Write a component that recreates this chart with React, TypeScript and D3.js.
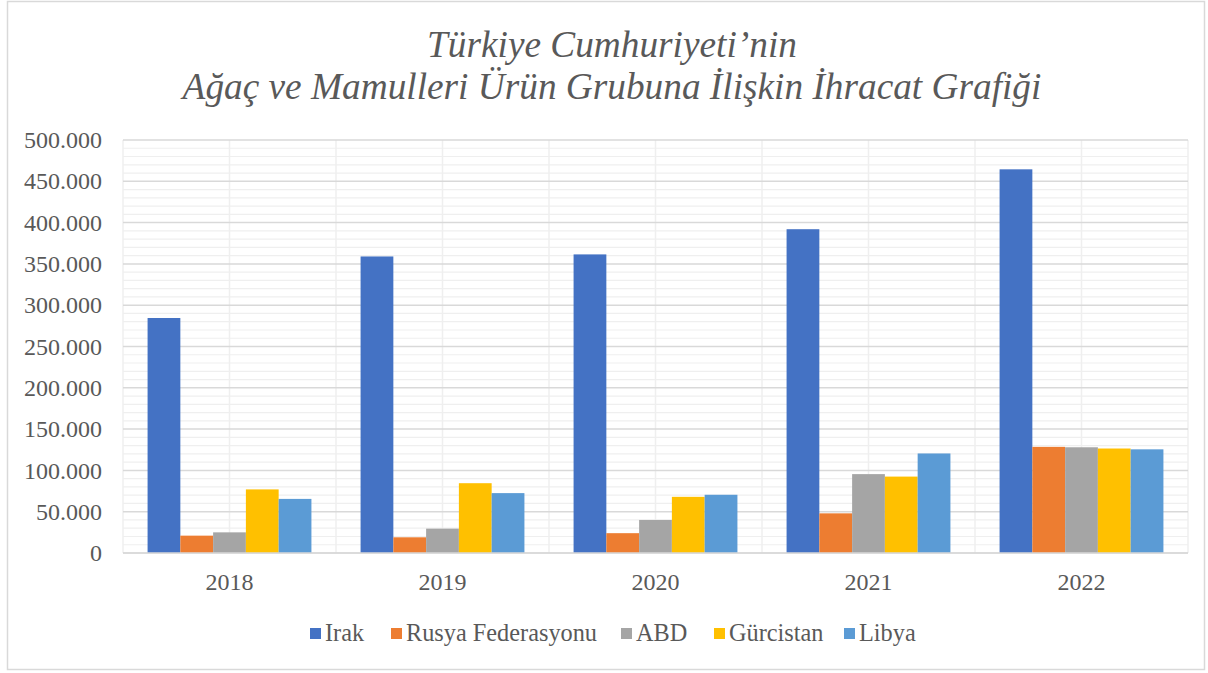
import React, { useEffect } from 'react';
import * as d3 from 'd3';

// Export values per year
const YEARS = ['2018', '2019', '2020', '2021', '2022'];
const SERIES_NAMES = ['Irak', 'Rusya Federasyonu', 'ABD', 'Gürcistan', 'Libya'];
const IRAK = [284500, 359000, 361500, 392000, 464500];
const RUSYA = [21000, 19000, 24000, 48000, 128500];
const ABD = [25000, 29500, 40000, 95500, 128000];
const GURCISTAN = [77000, 84500, 68000, 92500, 126500];
const LIBYA = [65500, 72500, 70500, 120500, 125500];
const Y_TICKS = [0, 50000, 100000, 150000, 200000, 250000, 300000, 350000, 400000, 450000, 500000];
const TITLE_LINES = ['Türkiye Cumhuriyeti’nin', 'Ağaç ve Mamulleri Ürün Grubuna İlişkin İhracat Grafiği'];

const SERIES = [IRAK, RUSYA, ABD, GURCISTAN, LIBYA];
const COLORS = ['#4472C4', '#ED7D31', '#A5A5A5', '#FFC000', '#5B9BD5'];

const W = 1208;
const H = 673;
const FONT = '"Liberation Serif", "Times New Roman", serif';
const TEXT = '#595959';

const margin = { left: 123, right: 20, top: 140, bottom: 120 };

const App: React.FC = () => {
  useEffect(() => {
    document.body.style.margin = '0';
  }, []);

  const x0 = d3
    .scaleBand<string>()
    .domain(YEARS)
    .range([margin.left, W - margin.right])
    .paddingInner(0)
    .paddingOuter(0);

  // gap width 150% => bars take 5 / 6.5 of the category
  const inner = x0.bandwidth() * (5 / 6.5);
  const x1 = d3
    .scaleBand<number>()
    .domain(d3.range(SERIES.length))
    .range([0, inner]);

  const y = d3.scaleLinear().domain([0, 500000]).range([H - margin.bottom, margin.top]);
  const y0 = y(0);

  const minorTicks = d3.range(0, 500001, 10000).filter((v) => v % 50000 !== 0);
  const vLines = d3.range(0, YEARS.length * 2 + 1).map(
    (i) => margin.left + (i * x0.bandwidth()) / 2
  );

  const fmt = (v: number) => (v === 0 ? '0' : d3.format(',')(v).replace(/,/g, '.'));

  // legend layout
  const legendX = [310, 391, 621, 714, 844];

  return (
    <svg width={W} height={H} style={{ display: 'block', background: '#fff' }}>
      <rect x={7.5} y={1.5} width={1197} height={668} fill="#fff" stroke="#d9d9d9" strokeWidth={1.5} />

      {/* Title */}
      {TITLE_LINES.map((t, i) => (
        <text
          key={t}
          x={612}
          y={57 + i * 42}
          textAnchor="middle"
          fontFamily={FONT}
          fontStyle="italic"
          fontSize={37.3}
          fill={TEXT}
        >
          {t}
        </text>
      ))}

      {/* Minor horizontal gridlines */}
      {minorTicks.map((v) => (
        <line key={'m' + v} x1={margin.left} x2={W - margin.right} y1={y(v)} y2={y(v)} stroke="#efefef" strokeWidth={1.2} />
      ))}
      {/* Vertical gridlines */}
      {vLines.map((vx, i) => (
        <line key={'v' + i} x1={vx} x2={vx} y1={y(500000)} y2={y0} stroke="#efefef" strokeWidth={1.5} />
      ))}
      {/* Major horizontal gridlines */}
      {Y_TICKS.map((v) => (
        <line key={'M' + v} x1={margin.left} x2={W - margin.right} y1={y(v)} y2={y(v)} stroke="#d9d9d9" strokeWidth={1.5} />
      ))}

      {/* Bars */}
      {YEARS.map((yr, i) => (
        <g key={yr} transform={`translate(${(x0(yr) ?? 0) + (x0.bandwidth() - inner) / 2},0)`}>
          {SERIES.map((s, j) => (
            <rect
              key={j}
              x={x1(j)}
              y={y(s[i])}
              width={x1.bandwidth()}
              height={y0 - y(s[i])}
              fill={COLORS[j]}
            />
          ))}
        </g>
      ))}

      {/* Axis line */}
      <line x1={margin.left} x2={W - margin.right} y1={y0} y2={y0} stroke="#d9d9d9" strokeWidth={1.5} />

      {/* Y labels */}
      {Y_TICKS.map((v) => (
        <text key={'yl' + v} x={102} y={y(v)} dy="0.34em" textAnchor="end" fontFamily={FONT} fontSize={24} fill={TEXT}>
          {fmt(v)}
        </text>
      ))}

      {/* X labels */}
      {YEARS.map((yr) => (
        <text
          key={'xl' + yr}
          x={(x0(yr) ?? 0) + x0.bandwidth() / 2}
          y={590}
          textAnchor="middle"
          fontFamily={FONT}
          fontSize={24}
          fill={TEXT}
        >
          {yr}
        </text>
      ))}

      {/* Legend */}
      {SERIES_NAMES.map((name, i) => (
        <g key={name} transform={`translate(${legendX[i]},0)`}>
          <rect x={0} y={628} width={11} height={11} fill={COLORS[i]} />
          <text x={15} y={641} fontFamily={FONT} fontSize={24.3} fill={TEXT}>
            {name}
          </text>
        </g>
      ))}
    </svg>
  );
};

export default App;
